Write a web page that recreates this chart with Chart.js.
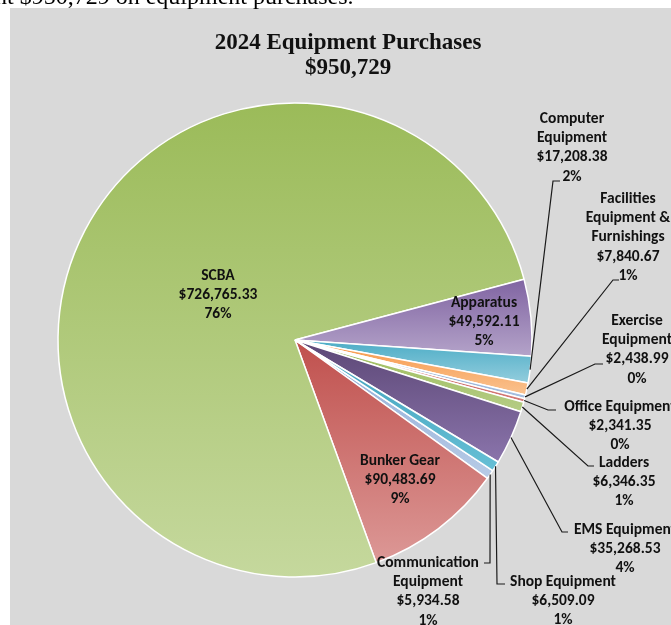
<!DOCTYPE html>
<html>
<head>
<meta charset="utf-8">
<script src="https://cdn.jsdelivr.net/npm/chart.js@4.4.1/dist/chart.umd.min.js"></script>
<style>
  html, body { margin: 0; padding: 0; background: #fff; overflow: hidden; }
  #wrap { position: relative; width: 671px; height: 625px; }
  #intro {
    position: absolute; left: -37px; top: -17px;
    font-family: "Liberation Serif", "Times New Roman", serif;
    font-size: 24px; line-height: 26px; white-space: nowrap; color: #000; z-index: 2;
  }
  canvas { position: absolute; left: 0; top: 0; }
</style>
</head>
<body>
<div id="wrap">
  <div id="intro">spent $950,729 on equipment purchases.</div>
  <canvas id="equipChart" width="671" height="625"></canvas>
</div>
<script>
// Data (slice order is clockwise, as Excel drew it)
const categories = ['Communication Equipment', 'Bunker Gear', 'SCBA', 'Apparatus', 'Computer Equipment',
  'Facilities Equipment & Furnishings', 'Exercise Equipment', 'Office Equipment', 'Ladders',
  'EMS Equipment', 'Shop Equipment'];
const amounts = [5934.58, 90483.69, 726765.33, 49592.11, 17208.38, 7840.67, 2438.99, 2341.35, 6346.35, 35268.53, 6509.09];
const percentLabels = ['1%', '9%', '76%', '5%', '2%', '1%', '0%', '0%', '1%', '4%', '1%'];
const nameLines = [['Communication', 'Equipment'], ['Bunker Gear'], ['SCBA'], ['Apparatus'], ['Computer', 'Equipment'],
  ['Facilities', 'Equipment &', 'Furnishings'], ['Exercise', 'Equipment'], ['Office Equipment'], ['Ladders'],
  ['EMS Equipment'], ['Shop Equipment']];
const titleLines = ['2024 Equipment Purchases', '$950,729'];

// slice fills: gradient from top colour to bottom colour
const fillTop = ['#8eaad6', '#c0504d', '#9bbb59', '#8064a2', '#4bacc6', '#f79646', '#7a9fcf', '#c0504d', '#9bbb59', '#5c4776', '#3fa0bb'];
const fillBottom = ['#b7cbe6', '#dc9896', '#c5d89d', '#b4a3c9', '#93cddd', '#fac28f', '#a7c0e0', '#d57b78', '#b5cc85', '#8a74ab', '#66bfd5'];

// label placement (text centre x, first line y, leader elbow and end)
const labelLayout = [
  { x: 428, y: 563, elbow: [490, 563], end: [484, 563] },
  { x: 400, y: 461 },
  { x: 218, y: 276 },
  { x: 484, y: 303 },
  { x: 572, y: 119, elbow: [553, 181], end: [560, 181] },
  { x: 628, y: 199, elbow: [613, 280], end: [619, 280] },
  { x: 637, y: 321, elbow: [595, 364], end: [603, 364] },
  { x: 620, y: 407, elbow: [548, 410], end: [556, 410] },
  { x: 624, y: 463, elbow: [588, 466], end: [594, 466] },
  { x: 625, y: 530, elbow: [562, 532], end: [568, 532] },
  { x: 563, y: 582, elbow: [497, 584], end: [505, 584] }
];
const lineGap = 19.3;
const labelFont = 'bold 15.5px Carlito, Lato, sans-serif';

function money(v) {
  return '$' + v.toLocaleString('en-US', { minimumFractionDigits: 2, maximumFractionDigits: 2 });
}

const plotBackground = {
  id: 'plotBackground',
  beforeDraw(chart) {
    const ctx = chart.ctx;
    ctx.save();
    ctx.fillStyle = '#d9d9d9';
    ctx.fillRect(10, 8, chart.width - 10, chart.height - 8);
    ctx.fillStyle = '#111';
    ctx.font = 'bold 23px "Liberation Serif", serif';
    ctx.textAlign = 'center';
    ctx.textBaseline = 'middle';
    ctx.fillText(titleLines[0], 348, 43);
    ctx.fillText(titleLines[1], 348, 68);
    ctx.restore();
  }
};

// per-slice vertical gradient, sized to each slice's bounding box
const sliceGradients = {
  id: 'sliceGradients',
  beforeDatasetsDraw(chart) {
    const ctx = chart.ctx;
    chart.getDatasetMeta(0).data.forEach((arc, i) => {
      const p = arc.getProps(['x', 'y', 'startAngle', 'endAngle', 'outerRadius'], true);
      let top = p.y, bottom = p.y;
      for (let k = 0; k <= 180; k++) {
        const a = p.startAngle + (p.endAngle - p.startAngle) * k / 180;
        const yy = p.y + p.outerRadius * Math.sin(a);
        top = Math.min(top, yy);
        bottom = Math.max(bottom, yy);
      }
      const g = ctx.createLinearGradient(0, top, 0, bottom);
      g.addColorStop(0, fillTop[i]);
      g.addColorStop(1, fillBottom[i]);
      arc.options.backgroundColor = g;
    });
  }
};

const dataLabels = {
  id: 'dataLabels',
  afterDatasetsDraw(chart) {
    const ctx = chart.ctx;
    ctx.save();
    chart.getDatasetMeta(0).data.forEach((arc, i) => {
      const lay = labelLayout[i];
      const p = arc.getProps(['x', 'y', 'startAngle', 'endAngle', 'outerRadius'], true);
      if (lay.elbow) {
        const mid = (p.startAngle + p.endAngle) / 2;
        ctx.beginPath();
        ctx.moveTo(p.x + p.outerRadius * Math.cos(mid), p.y + p.outerRadius * Math.sin(mid));
        ctx.lineTo(lay.elbow[0], lay.elbow[1]);
        ctx.lineTo(lay.end[0], lay.end[1]);
        ctx.strokeStyle = '#1a1a1a';
        ctx.lineWidth = 1.2;
        ctx.stroke();
      }
      const lines = nameLines[i].concat([money(amounts[i]), percentLabels[i]]);
      ctx.font = labelFont;
      ctx.fillStyle = '#111';
      ctx.textAlign = 'center';
      ctx.textBaseline = 'middle';
      lines.forEach((t, k) => ctx.fillText(t, lay.x, lay.y + k * lineGap));
    });
    ctx.restore();
  }
};

new Chart(document.getElementById('equipChart'), {
  type: 'pie',
  data: {
    labels: categories,
    datasets: [{
      data: amounts,
      backgroundColor: fillTop,
      borderColor: '#ffffff',
      borderWidth: 1.5
    }]
  },
  options: {
    responsive: false,
    animation: false,
    events: [],
    rotation: 123.45,
    radius: 237,
    layout: { padding: { left: 55, top: 100, right: 136, bottom: 45 } },
    plugins: {
      legend: { display: false },
      tooltip: { enabled: false },
      title: { display: false }
    }
  },
  plugins: [plotBackground, sliceGradients, dataLabels]
});
</script>
</body>
</html>
